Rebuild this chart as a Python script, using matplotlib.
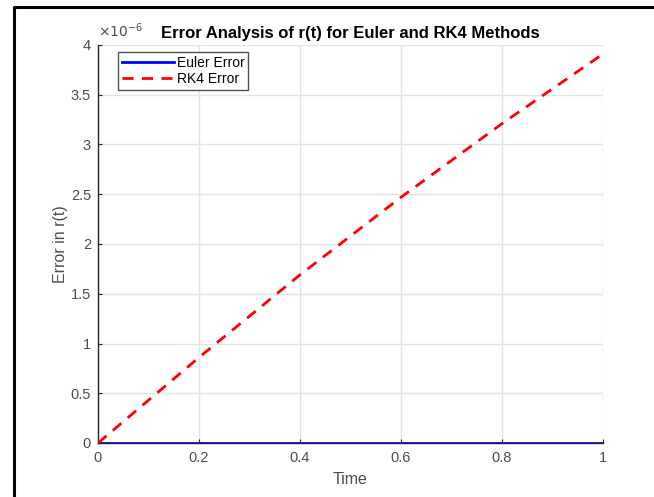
import numpy as np
import matplotlib
matplotlib.use('Agg')
import matplotlib.pyplot as plt
from matplotlib.ticker import FuncFormatter
from matplotlib.lines import Line2D

plt.rcParams['font.family'] = ['Liberation Sans', 'DejaVu Sans']

# data
t = [0.0, 0.2, 0.4, 0.6, 0.8, 1.0]
euler_err = [0.0, 0.0, 0.0, 0.0, 0.0, 0.0]
rk4_err = [0.0, 0.86e-6, 1.69e-6, 2.47e-6, 3.21e-6, 3.91e-6]

x_ticks = [0, 0.2, 0.4, 0.6, 0.8, 1]
y_ticks = [0, 0.5e-6, 1e-6, 1.5e-6, 2e-6, 2.5e-6, 3e-6, 3.5e-6, 4e-6]

TICK_GREY = '#4d4d4d'

fig = plt.figure(figsize=(6.54, 4.97), dpi=100)
ax = fig.add_axes([98/654, 1 - 443/497, (603 - 98)/654, (443 - 45)/497])

ax.plot(t, euler_err, color='#0000ff', linewidth=2, label='Euler Error', zorder=3)
ax.plot(t, rk4_err, color='#ff0000', linewidth=2, linestyle=(0, (4, 3)),
        label='RK4 Error', zorder=4)

ax.set_xlim(0, 1)
ax.set_ylim(0, 4e-6)
ax.set_xticks(x_ticks)
ax.set_yticks(y_ticks)
ax.xaxis.set_major_formatter(FuncFormatter(lambda v, p: f'{v:g}'))
ax.yaxis.set_major_formatter(FuncFormatter(lambda v, p: f'{v*1e6:g}'))
ax.tick_params(direction='in', length=3, colors='#262626', labelcolor=TICK_GREY,
               labelsize=10.5, width=0.8)
ax.tick_params(axis='x', pad=6)
ax.tick_params(axis='y', pad=5)

ax.grid(True, color='#e3e3e3', linewidth=1)
ax.set_axisbelow(True)
for s in ['top', 'right']:
    ax.spines[s].set_visible(False)
for s in ['left', 'bottom']:
    ax.spines[s].set_color('#262626')
    ax.spines[s].set_linewidth(1)

ax.text(0, 1.012, r'$\times10^{-6}$', transform=ax.transAxes, fontsize=10,
        color=TICK_GREY, ha='left', va='bottom')

ax.set_title('Error Analysis of r(t) for Euler and RK4 Methods',
             fontsize=12, fontweight='bold', pad=5)
ax.set_xlabel('Time', fontsize=11.5, color=TICK_GREY, labelpad=5)
ax.set_ylabel('Error in r(t)', fontsize=11.5, color=TICK_GREY, labelpad=2)

leg = ax.legend(loc='upper left', bbox_to_anchor=(0.04, 0.983), fontsize=10,
                frameon=True, fancybox=False, edgecolor='#262626',
                handlelength=3.7, handletextpad=0.2, borderpad=0.3,
                labelspacing=0.15, borderaxespad=0)
leg.get_frame().set_linewidth(1)

# frame drawn around the screenshot
fig.add_artist(Line2D([14/654, 14/654, 1], [0, 1 - 7/497, 1 - 7/497],
                      transform=fig.transFigure, color='black', linewidth=2.2))

fig.savefig('out.png', dpi=100)
